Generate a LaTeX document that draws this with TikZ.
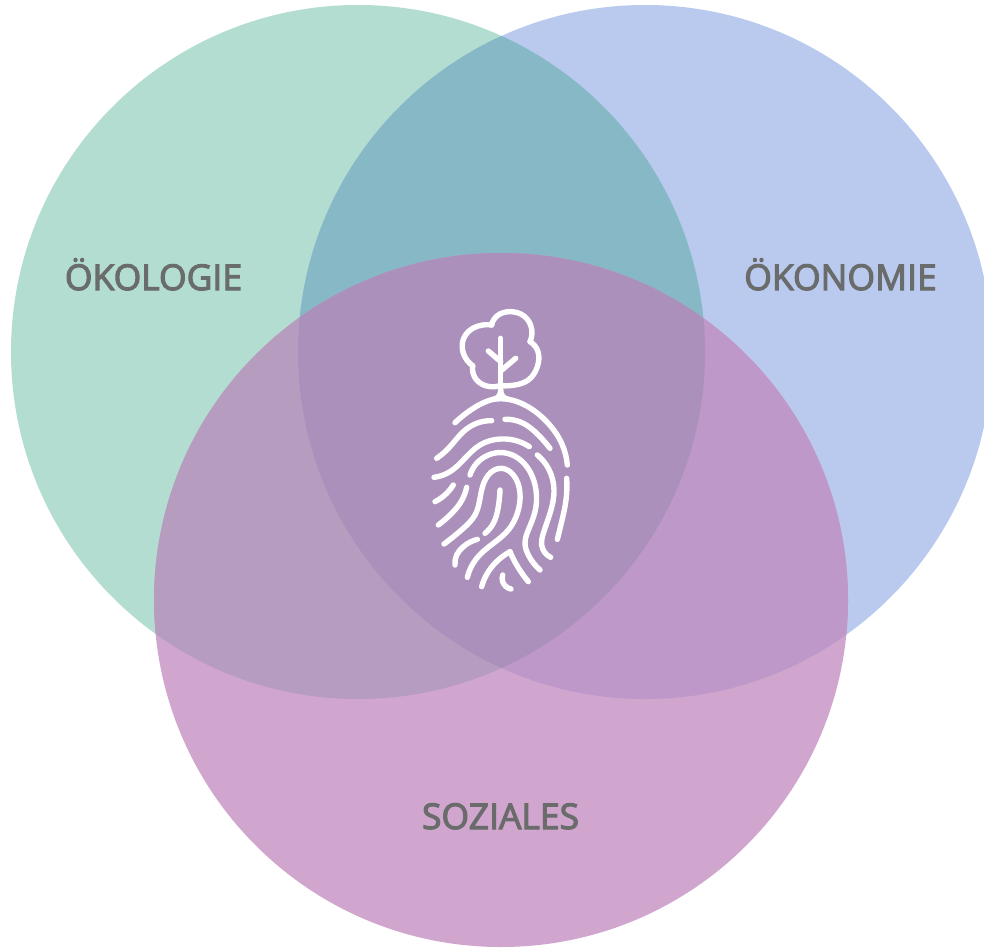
\documentclass[tikz,border=0pt]{standalone}
\usepackage{fontspec}
\usetikzlibrary{hobby}
\setmainfont{Open Sans}[RawFeature={embolden=3}]
\definecolor{cgreen}{HTML}{B2DDD0}
\definecolor{cblue}{HTML}{BAC9EE}
\definecolor{cpink}{HTML}{D0A5CE}
\definecolor{cgb}{HTML}{86B8C6}
\definecolor{cgp}{HTML}{B69DBF}
\definecolor{cbp}{HTML}{BD98C8}
\definecolor{call}{HTML}{AB90BB}
\definecolor{ctext}{HTML}{6A6B6B}
\tikzset{
  lab/.style={anchor=base,text=ctext,font=\fontsize{35.5}{38}\selectfont,inner sep=0pt},
  ridge/.style={draw=white,line width=5.4pt,line cap=round,line join=round},
  hridge/.style={ridge,use Hobby shortcut}
}
\newcommand{\cg}{(358,352) circle (347pt)}
\newcommand{\cb}{(645,352) circle (347pt)}
\newcommand{\cp}{(501,600) circle (347pt)}
\begin{document}
\begin{tikzpicture}[x=1pt,y=-1pt]
\useasboundingbox (0,0) rectangle (984,947);
\fill[white] (0,0) rectangle (984,947);
\begin{scope}
\clip (0,0) rectangle (984,947);
\fill[cgreen] \cg;
\fill[cblue] \cb;
\fill[cpink] \cp;
\begin{scope}\clip \cg; \fill[cgb] \cb; \fill[cgp] \cp; \end{scope}
\begin{scope}\clip \cb; \fill[cbp] \cp; \end{scope}
\begin{scope}\clip \cg; \clip \cb; \fill[call] \cp; \end{scope}
\end{scope}
\node[lab] (oek) at (153.5,290) {ÖKOLOGIE};
\node[lab] (oen) at (840.5,290) {ÖKONOMIE};
\node[lab] (soz) at (500.5,829) {SOZIALES};
\begin{scope}[shift={(410,300)},x=0.33333pt,y=-0.33333pt]
 % crown and trunk
 \begin{scope}[shift={(120,15)}]
  \draw[hridge] (68,182)..(42,150)..(38,110)..(55,80)..(85,63)..(125,60);
  \draw[hridge] (125,60)..(142,32)..(180,20)..(222,33)..(245,72)..(240,110);
  \draw[hridge] (240,110)..(264,140)..(262,185)..(235,225)..(195,240)..(150,242);
  \draw[hridge] (150,242)..(110,243)..(80,225)..(68,182);
  \draw[ridge] (152,100) -- (152,265);
  \draw[ridge] (115,138) -- (152,170);
  \draw[ridge] (197,160) -- (152,198);
 \end{scope}
 % outer arc
 \draw[ridge] (135,368) .. controls (170,335) and (215,305) .. (250,298) .. controls (265,295) and (272,285) .. (272,270);
 \draw[ridge] (272,270) .. controls (272,285) and (280,295) .. (295,298);
 \draw[hridge] (250,298)..(295,298)..(350,318)..(410,365)..(455,430)..(472,495);
 \draw[hridge] (245,362)..(200,370)..(160,395)..(120,440)..(80,475);
 \draw[hridge] (285,358)..(340,370)..(385,405)..(420,445);
 \begin{scope}[shift={(60,420)}]
  \draw[hridge] (120,105)..(140,70)..(175,45)..(220,38)..(265,55)..(300,95)..(318,150)..(315,215)..(295,270)..(285,310)..(295,345)..(330,390);
  \draw[hridge] (322,45)..(355,85)..(372,150)..(360,220)..(340,280)..(335,315)..(362,352);
  \draw[hridge] (410,115)..(408,180)..(395,245)..(382,298);
  \draw[hridge] (298,20)..(250,0)..(200,-2)..(150,15)..(100,60)..(60,95)..(12,112);
  \draw[hridge] (70,135)..(50,160)..(15,185);
  \draw[hridge] (110,142)..(90,190)..(60,225)..(25,255);
  \draw[hridge] (42,312)..(100,265)..(135,225)..(155,150)..(175,105)..(215,85)..(250,105)..(270,160)..(262,220)..(235,270)..(190,310)..(140,355)..(112,412);
  \draw[hridge] (210,150)..(205,200)..(190,250)..(165,280);
  \draw[hridge] (142,298)..(100,320)..(80,345)..(75,375);
  \draw[hridge] (155,440)..(175,395)..(205,360)..(240,335);
  \draw[hridge] (240,335)..(260,375)..(295,425);
  \draw[hridge] (218,405)..(218,425)..(243,447);
 \end{scope}
\end{scope}
\end{tikzpicture}
\end{document}
